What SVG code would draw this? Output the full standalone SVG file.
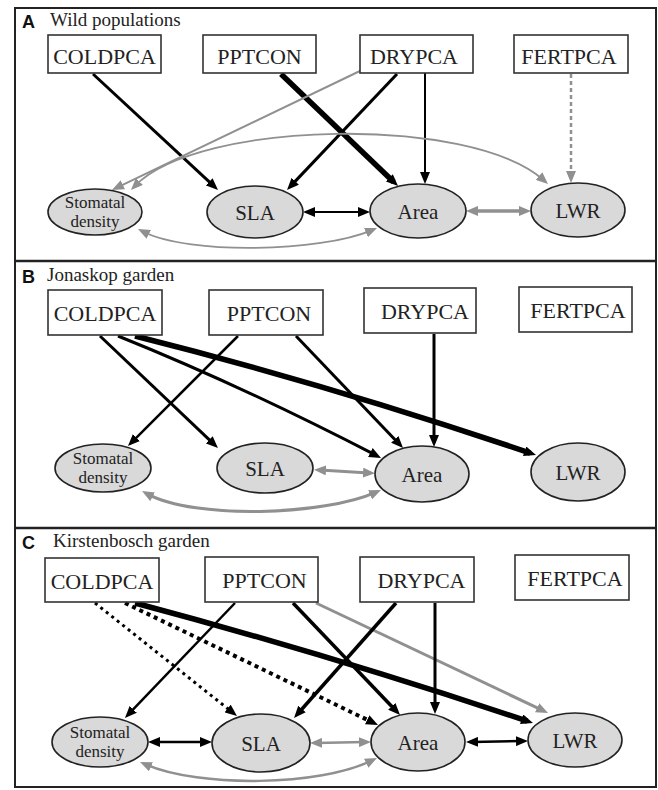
<svg xmlns="http://www.w3.org/2000/svg" width="658" height="790" viewBox="0 0 658 790">
<style>
.frame{fill:none;stroke:#222;stroke-width:2}
.sep{stroke:#222;stroke-width:2.5}
.box{fill:#fff;stroke:#333;stroke-width:1.6}
.ell{fill:#d9d9d9;stroke:#222;stroke-width:1.6}
.bt{font-family:"Liberation Serif",serif;font-size:22px;fill:#222;text-anchor:middle}
.et{font-family:"Liberation Serif",serif;font-size:21px;fill:#222;text-anchor:middle}
.st{font-family:"Liberation Serif",serif;font-size:17px;fill:#222;text-anchor:middle}
.pl{font-family:"Liberation Sans",sans-serif;font-size:18px;font-weight:bold;fill:#111}
.pt{font-family:"Liberation Serif",serif;font-size:19px;fill:#222}
.k{fill:none;stroke:#000;marker-end:url(#ah)}
.g{fill:none;stroke:#909090;marker-end:url(#ahg)}
.kk{fill:none;stroke:#000;marker-start:url(#ah);marker-end:url(#ah)}
.gg{fill:none;stroke:#909090;marker-start:url(#ahg);marker-end:url(#ahg)}
</style>
<defs>
<marker id="ah" markerUnits="userSpaceOnUse" markerWidth="12" markerHeight="10" refX="6" refY="5" orient="auto-start-reverse"><path d="M0,0 L12,5 L0,10 z" fill="#000"/></marker>
<marker id="ahg" markerUnits="userSpaceOnUse" markerWidth="12" markerHeight="10" refX="6" refY="5" orient="auto-start-reverse"><path d="M0,0 L12,5 L0,10 z" fill="#909090"/></marker>
</defs>
<rect width="658" height="790" fill="#fff"/>
<g id="frames">
<rect class="frame" x="15" y="8" width="641" height="779"/>
<line class="sep" x1="15" y1="261" x2="656" y2="261"/>
<line class="sep" x1="15" y1="528" x2="656" y2="528"/>
<text class="pl" x="22" y="28">A</text><text class="pt" x="50" y="26">Wild populations</text>
<text class="pl" x="22" y="283">B</text><text class="pt" x="47" y="281">Jonaskop garden</text>
<text class="pl" x="22" y="549">C</text><text class="pt" x="53" y="547">Kirstenbosch garden</text>
</g>
<g id="edges">
<!-- Panel A -->
<path class="k" stroke-width="3" d="M93,74 L213.6,185.9"/>
<path class="k" stroke-width="5.5" d="M281,74 L393.7,181.9"/>
<path class="k" stroke-width="3" d="M397,74 L291.1,185.6"/>
<path class="k" stroke-width="2" d="M425,73 L425,178"/>
<path class="g" stroke-width="2" d="M362,70 L117.4,187.4"/>
<path class="g" stroke-width="2.5" stroke-dasharray="4 3" d="M571,74 L571,177"/>
<path class="gg" stroke-width="1.8" d="M135.2,185.7 C200,120 470,115 543.5,180"/>
<path class="kk" stroke-width="2" d="M309,212 L364,212"/>
<path class="gg" stroke-width="3.5" d="M472,211 L525,211"/>
<path class="gg" stroke-width="1.8" d="M143.4,231.7 C190,255 320,252 371.5,230.3"/>
<!-- Panel B -->
<path class="k" stroke-width="3" d="M100,336 L213.6,443.9"/>
<path class="k" stroke-width="3" d="M118,336 Q240,385 375.7,455.2"/>
<path class="k" stroke-width="5.5" d="M135,336 Q330,385 530.3,453.1"/>
<path class="k" stroke-width="2.5" d="M238,336 L132.2,441.8"/>
<path class="k" stroke-width="3" d="M296,336 L398.9,443.7"/>
<path class="k" stroke-width="3" d="M434,334 L434,441"/>
<path class="gg" stroke-width="3" d="M320,470 L369,473"/>
<path class="gg" stroke-width="3" d="M147.3,493.9 C195,520 325,515 375.5,492.4"/>
<!-- Panel C -->
<path class="k" stroke-width="3" stroke-dasharray="3 4" d="M95,603 L232.3,712.3"/>
<path class="k" stroke-width="4" stroke-dasharray="4 4" d="M125,603 L372.6,722.4"/>
<path class="k" stroke-width="5.5" d="M135,603 Q330,655 527.3,721.1"/>
<path class="k" stroke-width="2.5" d="M235,603 L129.1,713.7"/>
<path class="k" stroke-width="3.5" d="M293,603 L395.9,710.7"/>
<path class="g" stroke-width="3" d="M316,603 L542.6,710.4"/>
<path class="k" stroke-width="3.5" d="M396,603 L298,713.5"/>
<path class="k" stroke-width="3" d="M435,603 L435,708"/>
<path class="kk" stroke-width="2.5" d="M154,742 L206,742"/>
<path class="gg" stroke-width="2.5" d="M316,743 L365,742"/>
<path class="kk" stroke-width="2.5" d="M472,742 L522,741"/>
<path class="gg" stroke-width="2.5" d="M145.5,764.4 C200,788 320,786 371.6,760.6"/>
</g>
<!-- Panel A nodes -->
<g id="A_COLDPCA"><rect class="box" x="48" y="35" width="113" height="38"/><text class="bt" x="104.5" y="64">COLDPCA</text></g>
<g id="A_PPTCON"><rect class="box" x="203" y="35" width="113" height="38"/><text class="bt" x="259.5" y="64">PPTCON</text></g>
<g id="A_DRYPCA"><rect class="box" x="360" y="35" width="113" height="38"/><text class="bt" x="414" y="64">DRYPCA</text></g>
<g id="A_FERTPCA"><rect class="box" x="514" y="35" width="114" height="38"/><text class="bt" x="569" y="64">FERTPCA</text></g>
<g id="A_Stomatal"><ellipse class="ell" cx="95" cy="212" rx="47" ry="23"/><text class="st" x="95" y="208">Stomatal</text><text class="st" x="95" y="227">density</text></g>
<g id="A_SLA"><ellipse class="ell" cx="255" cy="212" rx="48" ry="26"/><text class="et" x="255" y="220">SLA</text></g>
<g id="A_Area"><ellipse class="ell" cx="418" cy="211" rx="48" ry="27"/><text class="et" x="418" y="219">Area</text></g>
<g id="A_LWR"><ellipse class="ell" cx="578" cy="210" rx="47" ry="27"/><text class="et" x="578" y="218">LWR</text></g>
<!-- Panel B nodes -->
<g id="B_COLDPCA"><rect class="box" x="48" y="290" width="114" height="45"/><text class="bt" x="105" y="321">COLDPCA</text></g>
<g id="B_PPTCON"><rect class="box" x="209" y="290" width="114" height="45"/><text class="bt" x="269" y="321">PPTCON</text></g>
<g id="B_DRYPCA"><rect class="box" x="364" y="288" width="112" height="45"/><text class="bt" x="425" y="319">DRYPCA</text></g>
<g id="B_FERTPCA"><rect class="box" x="519" y="287" width="113" height="45"/><text class="bt" x="578" y="318">FERTPCA</text></g>
<g id="B_Stomatal"><ellipse class="ell" cx="103" cy="468" rx="48" ry="24"/><text class="st" x="103" y="464">Stomatal</text><text class="st" x="103" y="483">density</text></g>
<g id="B_SLA"><ellipse class="ell" cx="265" cy="468" rx="48" ry="25"/><text class="et" x="265" y="476">SLA</text></g>
<g id="B_Area"><ellipse class="ell" cx="422" cy="474" rx="47" ry="28"/><text class="et" x="422" y="482">Area</text></g>
<g id="B_LWR"><ellipse class="ell" cx="578" cy="472" rx="47" ry="29"/><text class="et" x="578" y="480">LWR</text></g>
<!-- Panel C nodes -->
<g id="C_COLDPCA"><rect class="box" x="45" y="558" width="114" height="44"/><text class="bt" x="102" y="589">COLDPCA</text></g>
<g id="C_PPTCON"><rect class="box" x="205" y="557" width="113" height="45"/><text class="bt" x="264.5" y="588">PPTCON</text></g>
<g id="C_DRYPCA"><rect class="box" x="360" y="557" width="114" height="45"/><text class="bt" x="421.5" y="588">DRYPCA</text></g>
<g id="C_FERTPCA"><rect class="box" x="515" y="555" width="114" height="45"/><text class="bt" x="575" y="586">FERTPCA</text></g>
<g id="C_Stomatal"><ellipse class="ell" cx="100" cy="742" rx="48" ry="25"/><text class="st" x="100" y="738">Stomatal</text><text class="st" x="100" y="757">density</text></g>
<g id="C_SLA"><ellipse class="ell" cx="261" cy="743" rx="49" ry="29"/><text class="et" x="261" y="751">SLA</text></g>
<g id="C_Area"><ellipse class="ell" cx="418" cy="742" rx="47" ry="29"/><text class="et" x="418" y="750">Area</text></g>
<g id="C_LWR"><ellipse class="ell" cx="575" cy="740" rx="47" ry="27"/><text class="et" x="575" y="748">LWR</text></g>
</svg>
